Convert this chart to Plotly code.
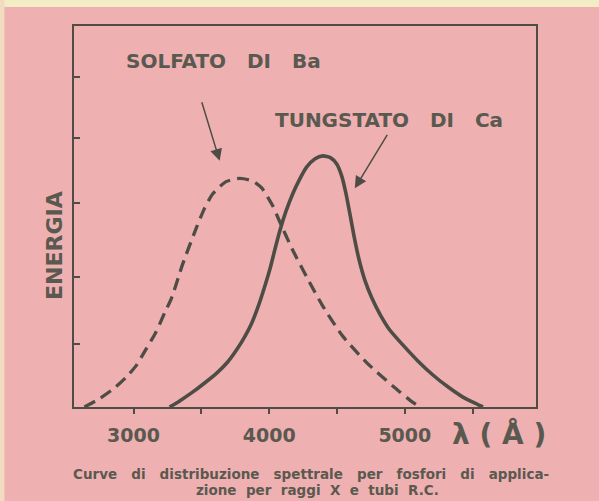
import plotly.graph_objects as go

# Wavelength (Angstrom) and relative energy (0-100, frame top = 100)
ba_wavelength = [2638, 2749, 2860, 2948, 3022, 3089, 3162, 3229, 3280, 3362, 3465, 3524,
                 3583, 3679, 3782, 3878, 3945, 4026, 4078, 4173, 4277, 4395, 4542, 4720,
                 4911, 5059, 5111]
ba_energy = [0.0, 2.2, 5.0, 7.9, 11.0, 15.0, 19.4, 24.7, 28.6, 37.5, 47.2, 52.2,
             55.9, 59.1, 60.0, 59.3, 57.5, 52.8, 48.6, 41.2, 34.1, 26.5, 18.6, 11.6,
             5.5, 1.2, 0.0]

ca_wavelength = [3266, 3340, 3435, 3524, 3613, 3694, 3760, 3819, 3871, 3915, 3959, 4004,
                 4041, 4078, 4122, 4173, 4225, 4277, 4336, 4395, 4454, 4498, 4535, 4565,
                 4594, 4624, 4661, 4705, 4757, 4816, 4889, 4985, 5096, 5207, 5317, 5428,
                 5517, 5576]
ca_energy = [0.0, 1.6, 3.9, 6.3, 8.9, 11.8, 15.0, 18.4, 22.0, 26.0, 30.7, 36.0,
             41.2, 46.2, 51.2, 55.9, 59.8, 63.0, 65.1, 65.9, 65.4, 63.8, 60.6, 56.2,
             50.9, 45.1, 38.9, 33.3, 28.6, 24.4, 20.2, 16.3, 12.1, 8.4, 5.3, 2.6,
             1.0, 0.0]

x_tickvals = [3000, 3500, 4000, 4500, 5000, 5500]
x_ticktext = ["3000", "", "4000", "", "5000", ""]
y_tickvals = [16.5, 34.1, 53.5, 70.6, 86.6]

x_range = [2561, 5967]
y_range = [0, 100]

PINK = "#efb0b2"
INK = "#4e4d45"
TEXT = "#5a594f"
FONT = "DejaVu Sans"
NB = "\u00a0"

fig = go.Figure()
fig.add_trace(go.Scatter(x=ba_wavelength, y=ba_energy, mode="lines",
                         line=dict(color=INK, width=3.3, dash="12px,7px", shape="spline", smoothing=0.6),
                         name="Solfato di Ba", hoverinfo="skip"))
fig.add_trace(go.Scatter(x=ca_wavelength, y=ca_energy, mode="lines",
                         line=dict(color=INK, width=3.6, shape="spline", smoothing=0.6),
                         name="Tungstato di Ca", hoverinfo="skip"))


def txt(**kw):
    d = dict(showarrow=False, xanchor="center", yanchor="middle")
    d.update(kw)
    return d


gap = NB * 3
annotations = [
    txt(x=3664, y=90.8, xref="x", yref="y", text="SOLFATO" + gap + "DI" + gap + "Ba",
        font=dict(family=FONT, size=20, color=TEXT, weight="bold")),
    txt(x=4880, y=75.3, xref="x", yref="y", text="TUNGSTATO" + gap + "DI" + gap + "Ca",
        font=dict(family=FONT, size=20, color=TEXT, weight="bold")),
    dict(x=3635, y=64.6, ax=3500, ay=80.4, xref="x", yref="y", axref="x", ayref="y",
         text="", showarrow=True, arrowhead=2, arrowsize=1.6, arrowwidth=1.5, arrowcolor=INK),
    dict(x=4631, y=57.4, ax=4877, ay=71.8, xref="x", yref="y", axref="x", ayref="y",
         text="", showarrow=True, arrowhead=2, arrowsize=1.6, arrowwidth=1.5, arrowcolor=INK),
    txt(x=-0.0423, y=0.424, xref="paper", yref="paper", text="ENERGIA", textangle=-90,
        font=dict(family=FONT, size=22, color=TEXT, weight="bold")),
    txt(x=0.92, y=-0.071, xref="paper", yref="paper", text="λ ( Å )",
        font=dict(family=FONT, size=28, color=TEXT, weight="bold")),
    txt(x=0.5125, y=-0.176, xref="paper", yref="paper",
        text=gap.join(["Curve", "di", "distribuzione", "spettrale", "per", "fosfori", "di", "applica-"]),
        font=dict(family=FONT, size=13.5, color=TEXT, weight="bold")),
    txt(x=0.5276, y=-0.218, xref="paper", yref="paper",
        text=(NB * 2).join(["zione", "per", "raggi", "X", "e", "tubi", "R.C."]),
        font=dict(family=FONT, size=13.5, color=TEXT, weight="bold")),
]

fig.update_layout(
    width=599, height=501,
    margin=dict(l=74, r=63, t=26, b=94),
    paper_bgcolor=PINK, plot_bgcolor=PINK,
    showlegend=False,
    annotations=annotations,
    shapes=[
        dict(type="rect", xref="paper", yref="paper", x0=-0.17, x1=1.14, y0=1.05, y1=1.08,
             fillcolor="#f4ecc4", line=dict(width=0), layer="below"),
        dict(type="rect", xref="paper", yref="paper", x0=-0.17, x1=-0.1506, y0=-0.26, y1=1.08,
             fillcolor="#f2dcc0", line=dict(width=0), layer="below"),
    ],
    xaxis=dict(range=x_range, tickvals=x_tickvals, ticktext=x_ticktext,
               showgrid=False, zeroline=False, showline=True, mirror=True,
               linecolor=INK, linewidth=2.2, ticks="outside", ticklen=5, tickwidth=2,
               tickcolor=INK, ticklabelstandoff=5,
               tickfont=dict(family=FONT, size=19, color=TEXT, weight="bold")),
    yaxis=dict(range=y_range, tickvals=y_tickvals, showticklabels=False,
               showgrid=False, zeroline=False, showline=True, mirror=True,
               linecolor=INK, linewidth=2.2, ticks="inside", ticklen=6, tickwidth=2,
               tickcolor=INK),
)

fig.write_html("out.html", config={"displayModeBar": False},
               post_script="document.body.style.margin='0';document.body.style.background='#f4ecc4';")
